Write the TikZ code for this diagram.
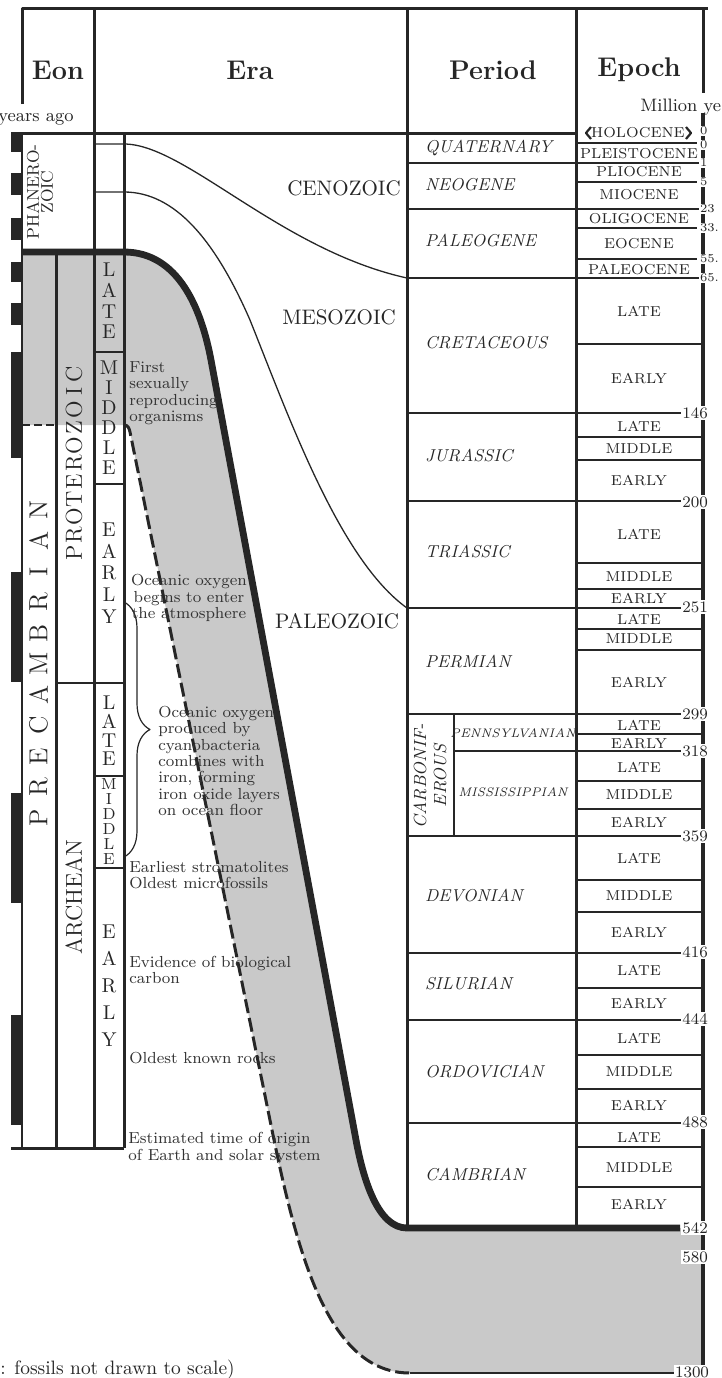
\documentclass[tikz,border=0pt]{standalone}
\usepackage{tikz}
\usetikzlibrary{calc,decorations.pathreplacing}

\definecolor{ink}{HTML}{262626}
\definecolor{bandgray}{HTML}{C9C9C9}
\definecolor{note}{HTML}{333333}

\newcommand{\fsz}[2]{\fontsize{#1}{#2}\selectfont}

\begin{document}
\begin{tikzpicture}[x=0.5pt, y=-0.5pt, line join=round,
  colline/.style={ink, line width=1.5pt},
  perline/.style={ink, line width=1pt},
  subline/.style={ink, line width=0.55pt},
  eraline/.style={ink, line width=0.65pt},
  header/.style={text=ink, font={\bfseries\fsz{13.5}{16}}},
  eralab/.style={text=ink, font={\fsz{10.5}{12}}},
  perlab/.style={text=ink, font={\itshape\fsz{8.6}{10}}, anchor=west},
  epolab/.style={text=ink, font={\fsz{7.2}{9}}},
  numlab/.style={text=ink, font={\fsz{8}{9}}, fill=white, inner sep=0.6pt},
  smallnum/.style={text=ink, font={\fsz{6}{7}}, fill=white, inner sep=0.3pt, anchor=west},
  notelab/.style={text=note, font={\fsz{8}{8.2}}, align=left, anchor=west, inner sep=0pt},
  stack/.style={text=ink, align=center, inner sep=0pt},
  spaced/.style={text=ink, rotate=90, inner sep=0pt},
]

% ---------------------------------------------------------
% Parameters (column positions)
% ---------------------------------------------------------
\pgfmathsetmacro{\xEon}{22}
\pgfmathsetmacro{\xMid}{56}
\pgfmathsetmacro{\xEra}{94}
\pgfmathsetmacro{\xSub}{124}
\pgfmathsetmacro{\xPer}{407}
\pgfmathsetmacro{\xEpo}{576}
\pgfmathsetmacro{\xBar}{703}

\useasboundingbox (0,0) rectangle (722,1378);

% ---------------------------------------------------------
% Gray band (fossil record)
% ---------------------------------------------------------
\fill[bandgray] (\xEon,252) -- (\xSub,252)
  .. controls (179,252) and (201.6,310) .. (211,360)
  -- (356,1140) .. controls (363.4,1180) and (378,1228) .. (\xPer,1228)
  -- (\xBar,1228) -- (\xBar,1373) -- (410,1373)
  .. controls (330,1373) and (298.4,1260) .. (272,1130)
  -- (130,432) .. controls (129,428) and (128,425) .. (\xSub,425)
  -- (\xEon,425) -- cycle;

% ---------------------------------------------------------
% Left time scale bars
% ---------------------------------------------------------
\foreach \ya/\yb in {132/152,173/195,218/240,262/282,303/325,352/458,572/682,793/903,1015/1125}
  \fill[ink] (11,\ya) rectangle (21,\yb);

% ---------------------------------------------------------
% Frame and columns
% ---------------------------------------------------------
\draw[colline] (\xEon,104) -- (\xEon,8) -- (708,8);
\draw[colline] (\xBar,8) -- (\xBar,93);
\draw[colline] (11,133) -- (\xEpo,133);
\draw[colline] (\xEra,8) -- (\xEra,1148);
\draw[colline] (\xSub,133) -- (\xSub,1148);
\draw[colline] (\xMid,252) -- (\xMid,1148);
\draw[ink, line width=0.6pt] (\xEon,133) -- (\xEon,1148);
\draw[colline] (11,1148) -- (\xSub,1148);
\draw[colline] (\xPer,8) -- (\xPer,1228);
\draw[colline] (\xEpo,8) -- (\xEpo,1228);

% era subdivisions
\foreach \y in {352,484,776,868}
  \draw[ink, line width=0.8pt] (\xEra,\y) -- (\xSub,\y);
\draw[perline] (\xMid,683) -- (\xSub,683);

% period boundaries
\foreach \y in {163,209,278,413,501,608,714,836,953,1020,1123}
  \draw[perline] (\xPer,\y) -- (\xBar,\y);
\draw[perline] (454,751) -- (\xBar,751);
\draw[perline] (454,714) -- (454,836);

% epoch boundaries
\foreach \y in {143,182,228,259}
  \draw[subline] (\xEpo,\y) -- (697,\y);
\foreach \y in {344,437,460,563,589,629,650,734,781,809,880,912,988,1055,1089,1147,1187}
  \draw[subline] (\xEpo,\y) -- (\xBar,\y);

% right time bar
\draw[ink, line width=1.75pt] (\xBar,113) -- (\xBar,1373);

% ---------------------------------------------------------
% Era boundary curves
% ---------------------------------------------------------
\draw[eraline] (\xEra,144) -- (\xSub,144)
  .. controls (185,144) and (280,250) .. (\xPer,278);
\draw[eraline] (\xEra,192) -- (\xSub,192)
  .. controls (175,192) and (215,240) .. (250,320)
  .. controls (290,420) and (340,560) .. (\xPer,608);

% ---------------------------------------------------------
% Band edges
% ---------------------------------------------------------
\draw[ink, line width=3.4pt] (\xEon,252) -- (\xSub,252)
  .. controls (179,252) and (201.6,310) .. (211,360)
  -- (356,1140) .. controls (363.4,1180) and (378,1228) .. (\xPer,1228)
  -- (680,1228);
\draw[ink, line width=1.5pt, dash pattern=on 7pt off 2.5pt] (\xSub,425)
  .. controls (128,425) and (129,428) .. (130,432)
  -- (272,1130) .. controls (298.4,1260) and (330,1373) .. (410,1373);
\draw[ink, line width=1.3pt] (410,1373) -- (680,1373);
\draw[ink, line width=1.3pt, dash pattern=on 4pt off 2pt] (\xEon,425) -- (\xMid,425);

% brace
\draw[ink, line width=0.6pt, decorate, decoration={brace, amplitude=13pt}]
  (\xSub,602) -- (\xSub,857);

% ---------------------------------------------------------
% Headers
% ---------------------------------------------------------
\node[header] (hEon) at (58,70) {Eon};
\node[header] (hEra) at (250,70) {Era};
\node[header] (hPer) at (493,70) {Period};
\node[header] (hEpo) at (639,70) {Epoch};
\node[text=ink, font={\fsz{9}{10}}, anchor=east, inner sep=0pt] (yrsL) at (74,119) {years ago};
\node[text=ink, font={\fsz{9}{10}}, anchor=west, inner sep=0pt] (yrsR) at (640,107) {Million ye};

% ---------------------------------------------------------
% Eons
% ---------------------------------------------------------
\node[spaced, font={\fsz{8.5}{7}}, align=center] (phan) at (40,192) {PHANERO-\\ZOIC};
\foreach \c [count=\i from 0] in {P,R,E,C,A,M,B,R,I,A,N}
  \node[spaced, font={\fsz{13}{14}}] (pre\i) at (38.5,{818-30.8*\i}) {\c};
\foreach \c [count=\i from 0] in {P,R,O,T,E,R,O,Z,O,I,C}
  \node[spaced, font={\fsz{11.5}{12}}] (pro\i) at (74,{553-17.9*\i}) {\c};
\node[spaced, font={\fsz{11.5}{12}}] (arch) at (74,897) {ARCHEAN};

% era subdivisions
\node[stack, font={\fsz{10}{10.35}}] (pLate) at (109,301) {L\\A\\T\\E};
\node[stack, font={\fsz{10}{10}}] (pMid) at (109,418) {M\\I\\D\\D\\L\\E};
\node[stack, font={\fsz{10}{10.9}}] (pEarly) at (109,573) {E\\A\\R\\L\\Y};
\node[stack, font={\fsz{10}{9.35}}] (aLate) at (109,731) {L\\A\\T\\E};
\node[stack, font={\fsz{8}{7.5}}] (aMid) at (109,822) {M\\I\\D\\D\\L\\E};
\node[stack, font={\fsz{10}{13.5}}] (aEarly) at (109,986) {E\\A\\R\\L\\Y};

% ---------------------------------------------------------
% Eras
% ---------------------------------------------------------
\node[eralab] (ceno) at (344,188) {CENOZOIC};
\node[eralab] (meso) at (339,317) {MESOZOIC};
\node[eralab] (paleo) at (337,621) {PALEOZOIC};

% ---------------------------------------------------------
% Periods
% ---------------------------------------------------------
\foreach \y/\t [count=\i] in {148/QUATERNARY,185/NEOGENE,241/PALEOGENE,343/CRETACEOUS,
    456/JURASSIC,552/TRIASSIC,662/PERMIAN,896/DEVONIAN,984/SILURIAN,
    1072/ORDOVICIAN,1175/CAMBRIAN}
  \node[perlab] (per\i) at (418,\y) {\t};
\node[text=ink, font={\itshape\fsz{8.8}{10}}, rotate=90, align=center] (carb) at (430,776) {CARBONIF-\\EROUS};
\node[text=ink, font={\itshape\fsz{6.2}{7}}] (penn) at (513,733) {PENNSYLVANIAN};
\node[text=ink, font={\itshape\fsz{6.2}{7}}] (miss) at (513,792) {MISSISSIPPIAN};

% ---------------------------------------------------------
% Epochs
% ---------------------------------------------------------
\node[epolab] (holo) at (638,133) {HOLOCENE};
\draw[ink, line width=1.1pt] (591,127) -- (586,133) -- (591,139);
\draw[ink, line width=1.1pt] (686,127) -- (691,133) -- (686,139);
\foreach \y/\t [count=\i] in {154/PLEISTOCENE,172/PLIOCENE,195/MIOCENE,219/OLIGOCENE,
    244/EOCENE,269/PALEOCENE,311/LATE,378/EARLY,426/LATE,449/MIDDLE,480/EARLY,
    534/LATE,577/MIDDLE,598/EARLY,619/LATE,639/MIDDLE,682/EARLY,725/LATE,743/EARLY,
    767/LATE,795/MIDDLE,822/EARLY,858/LATE,896/MIDDLE,932/EARLY,970/LATE,1003/EARLY,
    1038/LATE,1072/MIDDLE,1105/EARLY,1137/LATE,1168/MIDDLE,1204/EARLY}
  \node[epolab] (epo\i) at (639,\y) {\t};

% ---------------------------------------------------------
% Ages
% ---------------------------------------------------------
\foreach \y/\t [count=\i] in {131/0,145/0,163/1,182/5,209/23,228/33.,259/55.,278/65.}
  \node[smallnum] (mya\i) at (699,\y) {\t};
\foreach \y/\t [count=\i] in {413/146,502/200,607/251,714/299,751/318,836/359,952/416,
    1019/444,1122/488,1228/542,1257/580}
  \node[numlab] (myb\i) at (695,\y) {\t};
\node[numlab] (myb0) at (692,1372) {1300};

% ---------------------------------------------------------
% Notes
% ---------------------------------------------------------
\node[notelab] (n1) at (129,393) {First\\sexually\\reproducing\\organisms};
\node[text=note, font={\fsz{8}{8.2}}, align=center, inner sep=0pt] (n2) at (189,598) {Oceanic oxygen\\begins to enter\\the atmosphere};
\node[notelab] (n3) at (158,761) {Oceanic oxygen\\produced by\\cyanobacteria\\combines with\\iron, forming\\iron oxide layers\\on ocean floor};
\node[notelab] (n4) at (129,875) {Earliest stromatolites\\Oldest microfossils};
\node[notelab] (n5) at (129,970) {Evidence of biological\\carbon};
\node[notelab] (n6) at (129,1058) {Oldest known rocks};
\node[notelab] (n7) at (128,1148) {Estimated time of origin\\of Earth and solar system};
\node[text=ink, font={\fsz{9.7}{11}}, anchor=west, inner sep=0pt] (scale) at (0,1370) {: fossils not drawn to scale)};

\end{tikzpicture}
\end{document}
